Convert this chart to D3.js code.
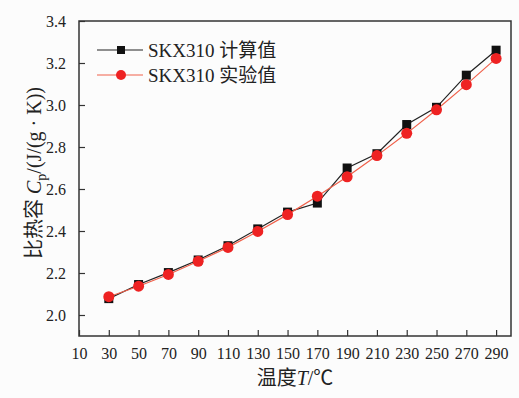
<!DOCTYPE html>
<html>
<head>
<meta charset="utf-8">
<script src="https://cdn.jsdelivr.net/npm/d3@7"></script>
<style>
  body { margin: 0; background: #fcfcfc; }
</style>
</head>
<body>
<svg id="plot" width="519" height="398"></svg>
<script>
// temperature T (C)
const temps = [30, 50, 70, 90, 110, 130, 150, 170, 190, 210, 230, 250, 270, 290];
// SKX310 calculated Cp
const calcVals = [2.078, 2.145, 2.202, 2.262, 2.330, 2.410, 2.490, 2.533, 2.700, 2.768, 2.907, 2.989, 3.142, 3.261];
// SKX310 measured Cp
const expVals = [2.087, 2.137, 2.193, 2.256, 2.322, 2.398, 2.478, 2.566, 2.658, 2.759, 2.865, 2.977, 3.097, 3.222];
const xTicks = [10, 30, 50, 70, 90, 110, 130, 150, 170, 190, 210, 230, 250, 270, 290];
const yTicks = [2.0, 2.2, 2.4, 2.6, 2.8, 3.0, 3.2, 3.4];
const seriesNames = ["SKX310 计算值", "SKX310 实验值"];

const svg = d3.select("#plot");
const plotL = 79, plotR = 511, plotT = 21, plotB = 336;
const serif = "'Liberation Serif', 'Noto Sans CJK SC', serif";

const x = d3.scaleLinear().domain([10, 300]).range([plotL, plotR]);
const y = d3.scaleLinear().domain([1.9, 3.4]).range([plotB, plotT]);

// axes, ticks pointing inward
const xAxis = svg.append("g")
    .attr("transform", "translate(0," + plotB + ")")
    .call(d3.axisBottom(x).tickValues(xTicks).tickSizeInner(-6).tickSizeOuter(0).tickPadding(12));
const yAxis = svg.append("g")
    .attr("transform", "translate(" + plotL + ",0)")
    .call(d3.axisLeft(y).tickValues(yTicks).tickFormat(d3.format(".1f")).tickSizeInner(-6).tickSizeOuter(0).tickPadding(13));

[xAxis, yAxis].forEach(function(a) {
    a.selectAll("text").attr("font-size", "16px").attr("fill", "#222")
        .style("font-family", serif);
    a.selectAll("line").attr("stroke", "#333").attr("stroke-width", 1.2);
    a.select(".domain").remove();
});

// frame
svg.append("rect")
    .attr("x", plotL).attr("y", plotT)
    .attr("width", plotR - plotL).attr("height", plotB - plotT)
    .attr("fill", "none").attr("stroke", "#333").attr("stroke-width", 1.5);

const calc = temps.map(function(t, i) { return {t: t, v: calcVals[i]}; });
const expd = temps.map(function(t, i) { return {t: t, v: expVals[i]}; });

const line = d3.line().x(function(d) { return x(d.t); }).y(function(d) { return y(d.v); });

svg.append("path").datum(calc)
    .attr("d", line).attr("fill", "none").attr("stroke", "#222").attr("stroke-width", 1.2);
svg.append("path").datum(expd)
    .attr("d", line).attr("fill", "none").attr("stroke", "#f0604a").attr("stroke-width", 1.2);

svg.selectAll("rect.calc").data(calc).enter().append("rect")
    .attr("class", "calc")
    .attr("x", function(d) { return x(d.t) - 4.5; })
    .attr("y", function(d) { return y(d.v) - 4.5; })
    .attr("width", 9).attr("height", 9)
    .attr("fill", "#111");

svg.selectAll("circle.exp").data(expd).enter().append("circle")
    .attr("class", "exp")
    .attr("cx", function(d) { return x(d.t); })
    .attr("cy", function(d) { return y(d.v); })
    .attr("r", 5.5)
    .attr("fill", "#ee2222");

// legend
const legY = [50, 75];
const legColors = ["#222", "#f0604a"];
seriesNames.forEach(function(name, i) {
    svg.append("line")
        .attr("x1", 97).attr("x2", 143)
        .attr("y1", legY[i]).attr("y2", legY[i])
        .attr("stroke", legColors[i]).attr("stroke-width", 1.2);
    if (i == 0) {
        svg.append("rect").attr("x", 117).attr("y", legY[i] - 4)
            .attr("width", 8).attr("height", 8).attr("fill", "#111");
    } else {
        svg.append("circle").attr("cx", 121).attr("cy", legY[i])
            .attr("r", 5).attr("fill", "#ee2222");
    }
    svg.append("text")
        .attr("x", 148).attr("y", legY[i] + 7)
        .attr("font-size", "19px").attr("fill", "#222")
        .style("font-family", serif)
        .text(name);
});

// axis titles
svg.append("text")
    .attr("x", 295).attr("y", 385)
    .attr("text-anchor", "middle")
    .attr("font-size", "20px").attr("fill", "#222")
    .style("font-family", serif)
    .html('温度<tspan font-style="italic">T</tspan>/℃');

svg.append("text")
    .attr("transform", "translate(41,173) rotate(-90)")
    .attr("text-anchor", "middle")
    .attr("font-size", "20px").attr("fill", "#222")
    .style("font-family", serif)
    .html('比热容 <tspan font-style="italic">C</tspan><tspan font-size="14px" dy="5">p</tspan><tspan dy="-5">/(J/(g · K))</tspan>');
</script>
</body>
</html>
